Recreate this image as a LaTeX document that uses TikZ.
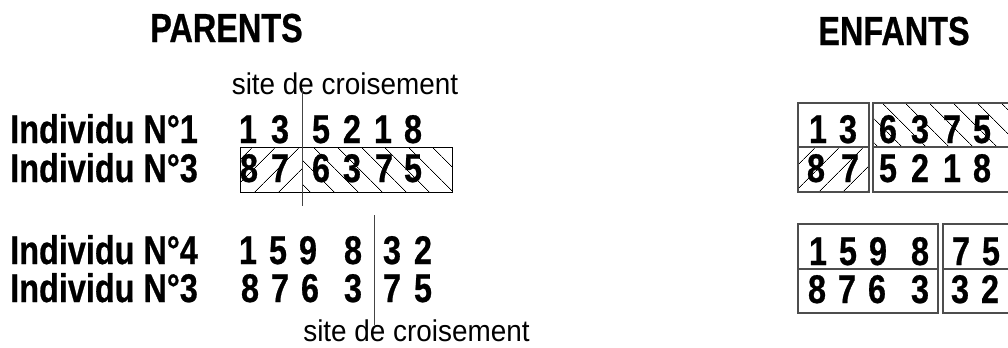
\documentclass[tikz,border=0pt]{standalone}
\usepackage{fontspec}
\usepackage{xcolor}
\usepackage{tikz}
\usetikzlibrary{patterns.meta}
\newfontfamily\titlefont[FakeStretch=0.80,FakeBold=0.6]{Liberation Sans}
\newfontfamily\rowfont[FakeStretch=0.81,FakeBold=0.6]{Liberation Sans}
\newfontfamily\sitefont[FakeStretch=0.93]{Liberation Sans}
\definecolor{cutgray}{HTML}{444444}
\definecolor{boxgray}{HTML}{4D4D4D}

\begin{document}
\begin{tikzpicture}[
  x=0.75pt,y=-0.75pt,
  title/.style={font=\titlefont\bfseries\fontsize{30.4}{32}\selectfont,inner sep=0pt,anchor=base},
  indiv/.style={font=\rowfont\bfseries\fontsize{30}{32}\selectfont,inner sep=0pt,anchor=base west},
  digit/.style={font=\rowfont\bfseries\fontsize{30}{32}\selectfont,inner sep=0pt,anchor=base},
  site/.style={font=\sitefont\fontsize{22.5}{24}\selectfont,inner sep=0pt,anchor=base},
  cut/.style={draw=cutgray,line width=0.75pt},
  pbox/.style={draw=black,line width=0.75pt},
  cellbox/.style={draw=boxgray,line width=1.1pt},
  fwd/.style={pattern={Lines[angle=45,distance=13pt,line width=0.6pt]}},
  bwd/.style={pattern={Lines[angle=-45,distance=13pt,line width=0.6pt]}}
]
\useasboundingbox (0,0) rectangle (1008,347);
\clip (0,0) rectangle (1008,347);

\node[title] (parents) at (226.5,42) {PARENTS};
\node[title] (enfants) at (894,45) {ENFANTS};

% parents, first crossing
\node[site] (site1) at (345,94) {site de croisement};
\node[indiv] (ind1) at (10,143) {Individu N°1};
\node[indiv] (ind3a) at (10,182) {Individu N°3};
\fill[fwd] (240,147) rectangle (302,192);
\fill[bwd] (302,147) rectangle (452,192);
\draw[pbox] (240,147) rectangle (452,192);
\foreach \x/\d [count=\i] in {248/1,280/3,321/5,352/2,383/1,413/8}
  \node[digit] (pa\i) at (\x,143) {\d};
\foreach \x/\d [count=\i] in {249/8,280/7,321/6,352/3,384/7,413/5}
  \node[digit] (pb\i) at (\x,182) {\d};
\coordinate (cut1top) at (302,88);
\coordinate (cut1bot) at (302,206);
\draw[cut] (cut1top) -- (cut1bot);

% parents, second crossing
\node[indiv] (ind4) at (10,264) {Individu N°4};
\node[indiv] (ind3b) at (10,302) {Individu N°3};
\foreach \x/\d [count=\i] in {248/1,278/5,308/9,353/8,392/3,423/2}
  \node[digit] (pc\i) at (\x,264) {\d};
\foreach \x/\d [count=\i] in {250/8,280/7,310/6,353/3,392/7,423/5}
  \node[digit] (pd\i) at (\x,302) {\d};
\coordinate (cut2top) at (374,215);
\coordinate (cut2bot) at (374,325);
\draw[cut] (cut2top) -- (cut2bot);
\node[site] (site2) at (416.5,341) {site de croisement};

% enfants
\fill[fwd] (798,147) rectangle (869,192);
\fill[bwd] (873,103) rectangle (1030,147);
\draw[cellbox] (798,103) rectangle (869,192) (798,147) -- (869,147);
\draw[cellbox] (873,103) rectangle (1030,192) (873,147) -- (1030,147);
\draw[cellbox] (798,224) rectangle (938,313) (798,269) -- (938,269);
\draw[cellbox] (943,224) rectangle (1030,313) (943,269) -- (1030,269);
\foreach \x/\d [count=\i] in {818/1,848/3,888/6,920/3,952/7,982/5}
  \node[digit] (ea\i) at (\x,143) {\d};
\foreach \x/\d [count=\i] in {816/8,850/7,888/5,920/2,952/1,982/8}
  \node[digit] (eb\i) at (\x,182) {\d};
\foreach \x/\d [count=\i] in {818/1,848/5,878/9,920/8,961/7,991/5}
  \node[digit] (ec\i) at (\x,265) {\d};
\foreach \x/\d [count=\i] in {817/8,847/7,877/6,920/3,960/3,990/2}
  \node[digit] (ed\i) at (\x,303) {\d};
\end{tikzpicture}
\end{document}
